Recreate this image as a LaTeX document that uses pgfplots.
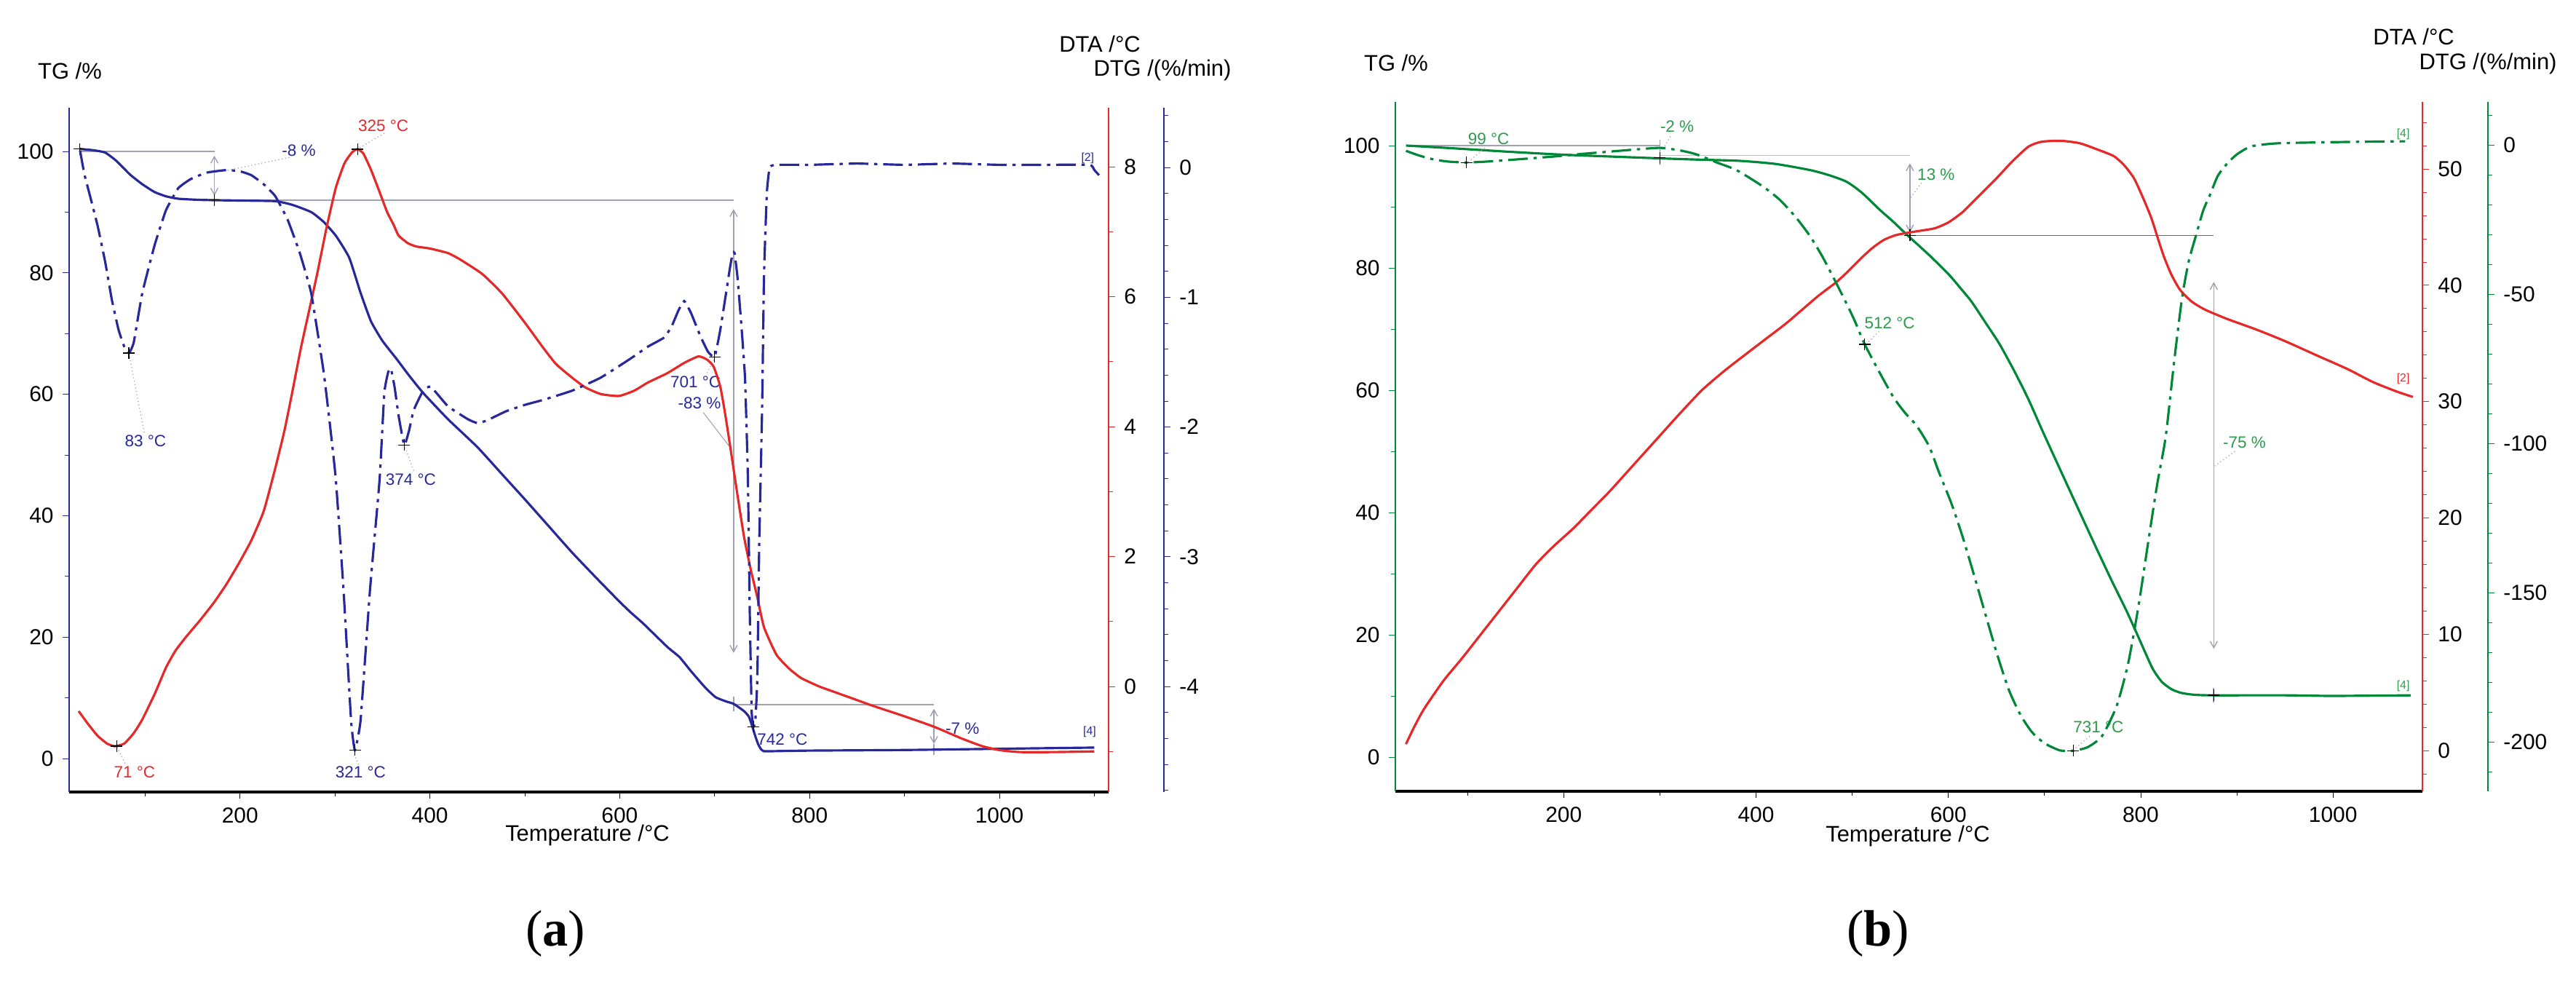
\documentclass[border=0pt]{standalone}
\usepackage{pgfplots}
\pgfplotsset{compat=1.18}
\usetikzlibrary{arrows.meta}
\usepackage{fontspec}
\setmainfont{Liberation Sans}
\newfontfamily\capfont{Liberation Serif}
\definecolor{navy}{RGB}{40,40,155}
\definecolor{dred}{RGB}{230,40,40}
\definecolor{dgreen}{RGB}{0,135,55}
\definecolor{tgreen}{RGB}{45,155,75}
\definecolor{agray}{RGB}{160,160,178}
\definecolor{lgreen}{RGB}{160,215,160}
\definecolor{ggray}{RGB}{95,115,95}
\tikzset{
  dd/.style={dash pattern=on 2.7mm off 0.8mm on 0.45mm off 0.8mm},
  ann/.style={font=\fontsize{6.4}{7}\selectfont, inner sep=0.5pt},
  tiny/.style={font=\fontsize{4.5}{5}\selectfont, inner sep=0.3pt},
  lead/.style={agray, line width=0.35pt, densely dotted},
  gl/.style={agray, line width=0.5pt},
  dar/.style={agray, line width=0.4pt, {Straight Barb[length=0.9mm,width=1mm]}-{Straight Barb[length=0.9mm,width=1mm]}},
  ttl/.style={font=\fontsize{8.8}{10}\selectfont},
}
\pgfplotsset{
  base/.style={scale only axis, clip=false,
    /pgf/number format/assume math mode=true,
    /pgf/number format/1000 sep={},
    tick label style={font=\fontsize{8.5}{10}\selectfont, text=black},
    tick align=outside, major tick length=0.9mm, minor tick length=0.6mm,
    axis line style={line width=0.8pt},
  },
  pk/.style={only marks, mark=+, mark size=0.8mm, mark options={black, line width=0.4pt}},
}
\begin{document}
\begin{tikzpicture}
\path[use as bounding box] (0,0) rectangle (353.9mm,-134.9mm);
%================ PANEL A ==================
\begin{axis}[base, at={(9.5mm,-108.8mm)}, width=142.8mm, height=94.0mm,
  xmin=20, xmax=1115, ymin=-5.52, ymax=107.19,
  axis x line*=bottom, axis y line*=left,
  x axis line style={black, line width=1.4pt}, y axis line style={navy},
  xtick={200,400,...,1000}, minor xtick={100,300,...,1100},
  ytick={0,20,...,100}, minor ytick={10,30,...,90},
  xtick style={black}, ytick style={navy},
]
\draw[gl] (axis cs:31,100) -- (axis cs:173,100);
\draw[dar] (axis cs:173,99.3) -- (axis cs:173,92.7);
\draw[gl] (axis cs:173,92) -- (axis cs:720,92);
\draw[dar] (axis cs:720,90.5) -- (axis cs:720,17.4);
\draw[gl] (axis cs:720,10.2) -- (axis cs:720,7.8);
\draw[gl] (axis cs:720,8.9) -- (axis cs:931,8.9);
\draw[dar] (axis cs:931,8.2) -- (axis cs:931,2.4);
\draw[gl] (axis cs:931,2.4) -- (axis cs:931,0.6);
\addplot[navy, line width=0.9pt, smooth, tension=0.3] coordinates {
(31,100.4)(45,100.2)(58,99.8)(70,98.4)(84,96.2)(97,94.6)(110,93.3)(122,92.6)(135,92.2)(160,92.0)(200,91.9)(237,91.8)(255,91.2)(275,90.0)(288,88.4)(301,86.1)(315,82.5)(327,76.7)(338,72.0)(350,68.8)(365,65.8)(378,63.1)(393,60.2)(419,55.9)(450,51.3)(475,47.0)(500,42.7)(525,38.3)(550,33.9)(575,29.8)(600,25.8)(612,24.0)(625,22.2)(650,18.4)(663,16.7)(675,14.4)(690,11.7)(701,10.1)(712,9.4)(720,9.0)(731,7.8)(736,6.9)(739,5.6)(743,3.6)(746,2.3)(749,1.5)(752,1.2)(760,1.2)(800,1.3)(900,1.4)(1000,1.6)(1100,1.8)
};
\addplot[pk] coordinates {(31,100.4)(173,92)};
\node[ann,text=navy] at (axis cs:262,100.1) {-8 \%};
\draw[lead] (axis cs:252,99.0) -- (axis cs:178,96.6);
\node[ann,text=dred] at (axis cs:351,104.2) {325 °C};
\draw[lead] (axis cs:352,103.0) -- (axis cs:326,100.6);
\node[ann,text=navy] at (axis cs:100.5,52.3) {83 °C};
\draw[lead] (axis cs:99,53.7) -- (axis cs:83,66.7);
\node[ann,text=navy] at (axis cs:380,46) {374 °C};
\draw[lead] (axis cs:383,47.4) -- (axis cs:374,51.2);
\node[ann,text=navy] at (axis cs:680,62) {701 °C};
\draw[lead] (axis cs:692,63.5) -- (axis cs:700,65.9);
\node[ann,text=navy] at (axis cs:684,58.5) {-83 \%};
\draw[gl, line width=0.3pt] (axis cs:688,57.0) -- (axis cs:716,51.3);
\node[ann,text=navy,anchor=west] at (axis cs:743,3.1) {742 °C};
\node[ann,text=navy] at (axis cs:961,5.0) {-7 \%};
\node[ann,text=dred] at (axis cs:89,-2.3) {71 °C};
\draw[lead] (axis cs:79,-0.8) -- (axis cs:70,2.0);
\node[ann,text=navy] at (axis cs:327,-2.3) {321 °C};
\draw[lead] (axis cs:325,-1.0) -- (axis cs:321,0.5);
\node[tiny,text=navy] at (axis cs:1093,98.9) {[2]};
\node[tiny,text=navy] at (axis cs:1095,4.4) {[4]};
\end{axis}
% DTA (a)
\begin{axis}[base, at={(9.5mm,-108.8mm)}, width=142.8mm, height=94.0mm,
  xmin=20, xmax=1115, ymin=-1.625, ymax=8.907,
  axis x line=none, axis y line*=right,
  y axis line style={dred}, ytick style={dred},
  ytick={0,2,...,8}, minor ytick={-1,1,3,5,7},
]
\addplot[dred, line width=0.9pt, smooth, tension=0.3] coordinates {
(30,-0.38)(40,-0.58)(50,-0.76)(60,-0.88)(68,-0.92)(78,-0.88)(88,-0.72)(97,-0.51)(110,-0.12)(122,0.29)(132,0.55)(143,0.76)(158,1.02)(173,1.30)(186,1.58)(199,1.90)(212,2.25)(225,2.70)(237,3.35)(247,3.95)(256,4.6)(264,5.2)(275,5.93)(282,6.4)(291,7.05)(301,7.68)(310,8.05)(318,8.22)(324,8.27)(330,8.2)(338,7.95)(347,7.61)(355,7.3)(362,7.1)(367,6.94)(377,6.82)(386,6.77)(400,6.74)(419,6.67)(432,6.57)(455,6.35)(476,6.05)(500,5.6)(520,5.2)(533,4.96)(550,4.75)(564,4.6)(580,4.5)(599,4.47)(615,4.55)(630,4.68)(650,4.82)(668,4.98)(683,5.08)(692,5.03)(699,4.92)(706,4.61)(711,4.2)(716,3.73)(724,2.95)(731,2.30)(738,1.8)(745,1.37)(752,0.91)(765,0.49)(778,0.28)(791,0.13)(810,0.0)(829,-0.10)(848,-0.2)(867,-0.30)(900,-0.46)(931,-0.62)(960,-0.8)(982,-0.92)(1000,-0.98)(1021,-1.01)(1060,-1.01)(1100,-1.0)
};
\addplot[pk] coordinates {(70,-0.92)(324,8.27)};
\end{axis}
% DTG (a)
\begin{axis}[base, at={(9.5mm,-108.8mm)}, width=150.4mm, height=94.0mm,
  xmin=20, xmax=1173.3, ymin=-4.813, ymax=0.46,
  axis x line=none, axis y line*=right,
  y axis line style={navy}, ytick style={navy},
  ytick={-4,-3,-2,-1,0}, minor ytick={-4.8,-4.6,...,0.4},
]
\addplot[navy, line width=0.9pt, dd, smooth, tension=0.25] coordinates {
(31.5,0.13)(36,-0.05)(42,-0.22)(50,-0.45)(58,-0.73)(65,-1.02)(72,-1.25)(78,-1.38)(83,-1.43)(88,-1.35)(97,-0.97)(110,-0.6)(122,-0.33)(135,-0.16)(148,-0.09)(165,-0.04)(186,-0.02)(200,-0.03)(212,-0.06)(225,-0.13)(237,-0.22)(250,-0.4)(263,-0.66)(275,-0.97)(288,-1.57)(295,-2.0)(301,-2.41)(309,-3.25)(317,-4.26)(321,-4.49)(327,-4.26)(337,-3.25)(347,-2.41)(352,-1.74)(356,-1.58)(359,-1.55)(363,-1.7)(367,-1.91)(373,-2.14)(378,-2.03)(383,-1.87)(393,-1.72)(401,-1.69)(419,-1.84)(440,-1.94)(450,-1.97)(460,-1.95)(480,-1.88)(500,-1.83)(520,-1.79)(550,-1.72)(580,-1.62)(610,-1.48)(630,-1.38)(647,-1.31)(655,-1.22)(662,-1.10)(668,-1.03)(675,-1.12)(685,-1.30)(693,-1.42)(700,-1.46)(706,-1.25)(712,-0.97)(716,-0.78)(719,-0.66)(721,-0.66)(724,-0.84)(728,-1.2)(732,-1.62)(735,-2.38)(737,-3.42)(739,-4.19)(741,-4.31)(743,-4.25)(745,-3.93)(747,-2.9)(750,-1.87)(752,-0.84)(755,-0.2)(758,0.0)(765,0.02)(800,0.02)(850,0.03)(900,0.02)(950,0.03)(1000,0.02)(1050,0.02)(1095,0.02)(1100,-0.02)(1105,-0.06)
};
\addplot[pk] coordinates {(83,-1.43)(321,-4.49)(373,-2.14)(700,-1.46)(741,-4.31)};
\end{axis}
\node[ttl] at (9.6mm,-9.7mm) {TG /\%};
\node[ttl] at (151.1mm,-6.0mm) {DTA /°C};
\node[ttl] at (159.7mm,-9.7mm) {DTG /(\%/min)};
\node[ttl] at (80.7mm,-114.8mm) {Temperature /°C};
\node[font=\capfont\fontsize{20}{22}\selectfont] at (76.3mm,-128.3mm) {(\textbf{a})};
%================ PANEL B ==================
\begin{axis}[base, at={(191.7mm,-108.7mm)}, width=141.1mm, height=94.7mm,
  xmin=25, xmax=1093, ymin=-5.595, ymax=107.14,
  axis x line*=bottom, axis y line*=left,
  x axis line style={black, line width=1.4pt}, y axis line style={dgreen},
  xtick={200,400,...,1000}, minor xtick={100,300,...,1000},
  ytick={0,20,...,100}, minor ytick={10,30,...,90},
  xtick style={black}, ytick style={dgreen},
]
\draw[gl] (axis cs:36,100) -- (axis cs:300,100);
\draw[agray, line width=0.4pt] (axis cs:300,101) -- (axis cs:300,96.8);
\draw[lgreen, line width=0.5pt] (axis cs:300,98.4) -- (axis cs:560,98.4);
\draw[dar] (axis cs:560,97.1) -- (axis cs:560,85.8);
\draw[ggray, line width=0.5pt] (axis cs:560,85.3) -- (axis cs:876,85.3);
\draw[dar] (axis cs:876,77.7) -- (axis cs:876,17.7);
\draw[gl] (axis cs:876,11.3) -- (axis cs:876,8.9);
\addplot[dgreen, line width=0.9pt, smooth, tension=0.4] coordinates {
(36,100)(80,99.6)(141.6,99.0)(200,98.5)(250,98.2)(301,97.9)(340,97.7)(383,97.5)(420,97)(456,96.0)(475,95.2)(494,94.1)(510,92.3)(528,89.6)(543,87.5)(557,85.4)(580,82.1)(600,79.0)(612,76.8)(624,74.5)(638,71.2)(653,67.6)(668,63.3)(683,58.6)(700,52.6)(721,45.4)(740,38.9)(755,33.8)(770,28.8)(785,24.0)(796,20.2)(805,17.0)(813,14.3)(822,12.3)(832,11.1)(842,10.5)(855,10.2)(873,10.1)(950,10.1)(1000,10.0)(1081,10.1)
};
\addplot[pk] coordinates {(300,98.0)(560,85.3)(876,10.1)};
\node[ann,text=tgreen] at (axis cs:318,103.1) {-2 \%};
\draw[lead] (axis cs:311,101.5) -- (axis cs:303,99.3);
\node[ann,text=tgreen] at (axis cs:122,101.1) {99 °C};
\draw[lead] (axis cs:118,99.6) -- (axis cs:100,97.2);
\node[ann,text=tgreen,anchor=west] at (axis cs:566,95.3) {13 \%};
\draw[lead] (axis cs:572,93.9) -- (axis cs:561,91.5);
\node[ann,text=tgreen] at (axis cs:539,71) {512 °C};
\draw[lead] (axis cs:528,69.6) -- (axis cs:513,67.3);
\node[ann,text=tgreen] at (axis cs:756,4.9) {731 °C};
\draw[lead] (axis cs:747,3.4) -- (axis cs:731,1.3);
\node[ann,text=tgreen] at (axis cs:908,51.5) {-75 \%};
\draw[lead] (axis cs:898,50) -- (axis cs:877,47.6);
\node[tiny,text=tgreen] at (axis cs:1073,101.8) {[4]};
\node[tiny,text=dred] at (axis cs:1073,61.9) {[2]};
\node[tiny,text=tgreen] at (axis cs:1073,11.6) {[4]};
\end{axis}
\begin{axis}[base, at={(191.7mm,-108.7mm)}, width=141.1mm, height=94.7mm,
  xmin=25, xmax=1093, ymin=-3.5, ymax=55.76,
  axis x line=none, axis y line*=right,
  y axis line style={dred}, ytick style={dred},
  ytick={0,10,...,50}, minor ytick={-2,0,...,54},
]
\addplot[dred, line width=0.9pt, smooth, tension=0.4] coordinates {
(36,0.56)(45,2.1)(55,3.6)(75,6.0)(94,7.9)(113,9.9)(132,11.9)(151,13.9)(171,16.0)(190,17.6)(210,19.1)(229,20.7)(248,22.3)(272,24.5)(296,26.7)(320,28.9)(344,31.0)(368,32.7)(393,34.3)(412,35.5)(431,36.7)(448,37.9)(465,39.1)(484,40.3)(497,41.3)(509,42.3)(521,43.2)(533,43.9)(545,44.3)(557,44.5)(572,44.7)(586,44.9)(600,45.4)(615,46.3)(632,47.7)(649,49.1)(666,50.6)(683,51.9)(695,52.3)(706,52.4)(720,52.4)(737,52.2)(754,51.7)(772,51.1)(783,50.3)(793,49.2)(802,47.6)(811,45.8)(818,44.0)(824,42.5)(832,40.9)(841,39.6)(853,38.6)(867,37.9)(890,37.1)(920,36.2)(950,35.2)(985,33.9)(1015,32.8)(1041,31.7)(1065,30.9)(1083,30.4)
};
\end{axis}
\begin{axis}[base, at={(191.7mm,-108.7mm)}, width=150.1mm, height=94.7mm,
  xmin=25, xmax=1161.1, ymin=-216.6, ymax=14.4,
  axis x line=none, axis y line*=right,
  y axis line style={dgreen}, ytick style={dgreen},
  ytick={-200,-150,...,0}, minor ytick={-210,-200,...,10},
]
\addplot[dgreen, line width=0.9pt, dd, smooth, tension=0.4] coordinates {
(36,-2)(50,-3.6)(65,-4.9)(80,-5.6)(99,-5.9)(120,-5.6)(150,-4.9)(190,-3.9)(220,-3.0)(250,-2.2)(280,-1.4)(301,-1.0)(320,-1.8)(334,-2.8)(344,-3.9)(360,-6.0)(380,-8.5)(407,-13.9)(425,-18.5)(441,-24.1)(456,-30.5)(470,-38)(490,-50.5)(502,-58.5)(513,-66.8)(528,-76)(543,-84.6)(555,-89.8)(567,-94.1)(580,-101)(590,-109.5)(603,-120)(615,-131.5)(627,-144.5)(639,-157.8)(651,-171)(663,-182.7)(675,-191)(687,-196.8)(700,-200.5)(716,-202.9)(730,-203)(745,-201.8)(760,-198)(775,-188)(787,-173.7)(798,-154)(808,-132.7)(817,-114)(826,-97.8)(835,-72)(843,-51.3)(850,-39)(858,-29.8)(865,-22)(872,-16.8)(880,-10.5)(889,-6.6)(900,-3.2)(915,-0.5)(941,0.5)(980,0.8)(1020,1.0)(1075,1.2)
};
\addplot[pk] coordinates {(99,-5.9)(513,-66.8)(730,-203)};
\end{axis}
\node[ttl] at (191.8mm,-8.6mm) {TG /\%};
\node[ttl] at (331.6mm,-5.0mm) {DTA /°C};
\node[ttl] at (341.8mm,-8.8mm) {DTG /(\%/min)};
\node[ttl] at (262.1mm,-114.9mm) {Temperature /°C};
\node[font=\capfont\fontsize{20}{22}\selectfont] at (258.0mm,-128.3mm) {(\textbf{b})};
\end{tikzpicture}
\end{document}
